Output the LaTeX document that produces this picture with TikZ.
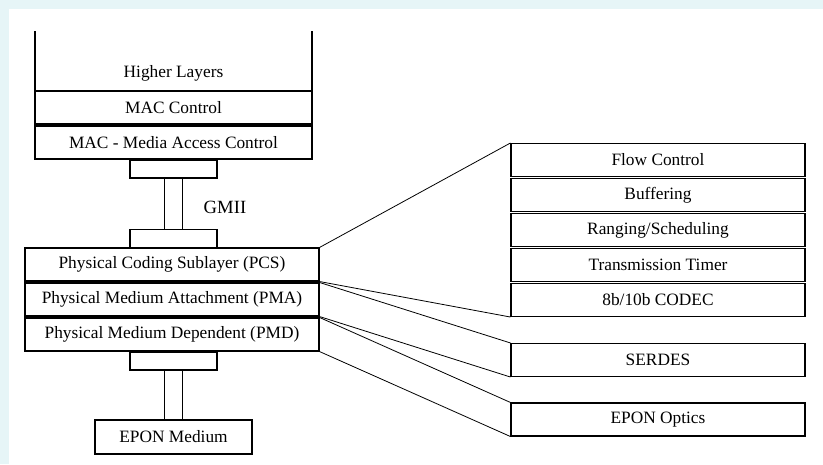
\documentclass[tikz,border=0pt]{standalone}
\usepackage{fontspec}
\setmainfont{Liberation Serif}
\usetikzlibrary{calc}
\definecolor{pagebg}{HTML}{E6F5F7}
\tikzset{
  layer/.style={draw, line width=0.8pt, inner sep=0pt, minimum height=24.75pt,
    font=\fontsize{13}{15}\selectfont},
  leftlayer/.style={layer, minimum width=207.75pt},
  sublayer/.style={layer, minimum width=220.5pt},
  port/.style={draw, line width=0.8pt, inner sep=0pt, minimum width=65.25pt, minimum height=13.5pt},
  link/.style={line width=0.6pt}
}
\begin{document}
\begin{tikzpicture}[x=0.75pt,y=-0.75pt]
\useasboundingbox (0,0) rectangle (823,464);
\fill[pagebg] (0,0) rectangle (823,464);
\fill[white] (9,9) rectangle (823,464);

% left stack
\draw[line width=0.8pt] (35,31) -- (35,91) -- (312,91) -- (312,31);
\node[font=\fontsize{13}{15}\selectfont] (higher) at (173.5,73) {Higher Layers};
\node[leftlayer] (macctl) at (173.5,107.5) {MAC Control};
\node[leftlayer] (mac) at (173.5,142.5) {MAC - Media Access Control};
\node[port] (gmiitop) at (173.5,169) {};
\node[port] (gmiibot) at (173.5,238.5) {};
\draw[line width=0.8pt] ($(gmiitop.south)+(-9,0)$) -- ($(gmiibot.north)+(-9,0)$);
\draw[line width=0.8pt] ($(gmiitop.south)+(9,0)$) -- ($(gmiibot.north)+(9,0)$);
\node[font=\fontsize{14}{16}\selectfont] (gmii) at (225,207) {GMII};

\node[layer, minimum width=220.5pt] (pcs) at (172,264.5) {Physical Coding Sublayer (PCS)};
\node[layer, minimum width=220.5pt] (pma) at (172,299.5) {Physical Medium Attachment (PMA)};
\node[layer, minimum width=220.5pt] (pmd) at (172,334.5) {Physical Medium Dependent (PMD)};
\node[port] (medtop) at (173.5,361) {};
\node[layer, minimum width=117.75pt, minimum height=25.5pt] (medium) at (173.5,437) {EPON Medium};
\draw[line width=0.8pt] ($(medtop.south)+(-9,0)$) -- ($(medium.north)+(-9,0)$);
\draw[line width=0.8pt] ($(medtop.south)+(9,0)$) -- ($(medium.north)+(9,0)$);

% right side
\node[sublayer] (flow) at (658,160) {Flow Control};
\node[sublayer] (buffer) at (658,195) {Buffering};
\node[sublayer] (ranging) at (658,230) {Ranging/Scheduling};
\node[sublayer] (timer) at (658,265) {Transmission Timer};
\node[sublayer] (codec) at (658,300) {8b/10b CODEC};
\node[sublayer] (serdes) at (658,360) {SERDES};
\node[sublayer] (optics) at (658,419.5) {EPON Optics};

% fan-out lines
\draw[link] (pcs.north east) -- (flow.north west);
\draw[link] (pcs.south east) -- (codec.south west);
\draw[link] (pma.north east) -- (serdes.north west);
\draw[link] (pma.south east) -- (serdes.south west);
\draw[link] (pmd.north east) -- (optics.north west);
\draw[link] (pmd.south east) -- (optics.south west);
\end{tikzpicture}
\end{document}
